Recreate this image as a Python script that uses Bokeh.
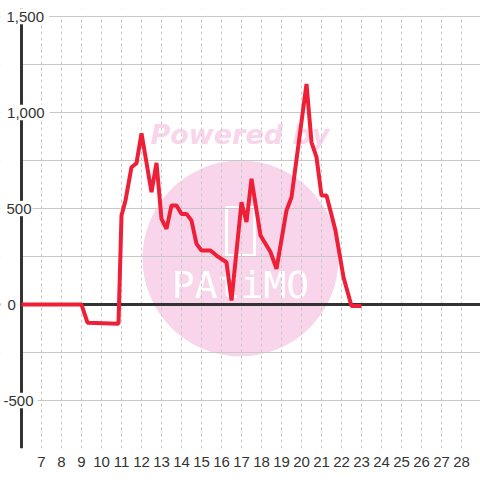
from bokeh.plotting import figure
from bokeh.models import Span, Label, FixedTicker, Range1d, Grid, BoxAnnotation
from bokeh.core.properties import value
from bokeh.embed import file_html
from bokeh.resources import INLINE

# data (hour of day, value)
hours = [6, 9.0, 9.3, 10.85, 11.0, 11.2, 11.5, 11.75, 12.0, 12.5, 12.75, 13.0, 13.25, 13.5,
         13.75, 14.0, 14.25, 14.5, 14.75, 15.0, 15.45, 15.75, 16.25, 16.5, 17.0, 17.25,
         17.5, 17.95, 18.45, 18.75, 19.25, 19.5, 20.25, 20.5, 20.75, 21.0, 21.25, 21.7,
         22.1, 22.5, 23.0]
values = [0, 0, -95, -100, 464, 542, 715, 736, 892, 585, 738, 446, 394, 516,
          516, 472, 472, 437, 316, 281, 281, 255, 220, 21, 533, 429,
          655, 359, 273, 186, 490, 559, 1149, 845, 767, 568, 568, 385,
          142, -8, -8]

x_ticks = list(range(7, 29))
y_grid_ticks = [-750, -500, -250, 0, 250, 500, 750, 1000, 1250, 1500]
y_label_vals = [-500, 0, 500, 1000, 1500]
y_label_texts = ["-500", "0", "500", "1,000", "1,500"]
y_label_x = [5.1, 5.3, 5.25, 5.28, 5.25]

# watermark
wm_x = [16.95]
wm_y = [240]
wm_text_x = [12.45]
wm_text_y = [885]
logo_y = [104]
logo_box_y = [380]

p = figure(width=480, height=480, x_range=Range1d(4.95, 28.95), y_range=Range1d(-750, 1541.7),
           output_backend="svg", toolbar_location=None, y_axis_location=None,
           min_border_left=0, min_border_right=0, min_border_top=8, min_border_bottom=32)
p.outline_line_color = None
p.background_fill_color = "white"

# axes / grid
p.xaxis.ticker = FixedTicker(ticks=x_ticks)
p.xaxis.axis_line_color = None
p.xaxis.major_tick_line_color = None
p.xaxis.minor_tick_line_color = None
p.xaxis.major_label_text_font = "Liberation Sans"
p.xaxis.major_label_text_font_size = "15px"
p.xaxis.major_label_text_color = "#333333"
p.xaxis.major_label_standoff = 2
p.xgrid.ticker = FixedTicker(ticks=x_ticks)
p.xgrid.grid_line_color = "#c8c8c8"
p.xgrid.grid_line_dash = "3 3"
p.xgrid.grid_line_width = 1

yg = Grid(dimension=1, ticker=FixedTicker(ticks=y_grid_ticks),
          grid_line_color="#c8c8c8", grid_line_width=1)
p.add_layout(yg)

# zero line, then blank strips left of the axis line and above the top grid line
p.add_layout(Span(location=0, dimension="width", line_color="#333333", line_width=3, level="underlay"))
p.add_layout(BoxAnnotation(right=5.93, fill_color="white", fill_alpha=1.0, line_color=None,
                           level="underlay"))
p.add_layout(BoxAnnotation(bottom=1503, fill_color="white", fill_alpha=1.0, line_color=None,
                           level="underlay"))
p.add_layout(Span(location=6, dimension="height", line_color="#333333", line_width=3, level="underlay"))

# watermark
p.scatter(x=wm_x, y=wm_y, size=196, marker="circle", fill_color="#f9d5ec",
          line_color=None, level="image")
p.text(x=wm_text_x, y=wm_text_y, text=["Powered by"], text_font=value("DejaVu Sans"),
       text_font_style="bold italic", text_font_size="27px", text_color="#f9d5ec",
       text_baseline="middle", text_align="left", level="image")
p.rect(x=wm_x, y=logo_box_y, width=28, height=48, width_units="screen", height_units="screen",
       fill_color=None, line_color="white", line_width=3, level="image")
p.text(x=wm_x, y=logo_y, text=["PAtiMO"], text_font=value("DejaVu Sans Mono"),
       text_font_size="38px", text_color="white", text_align="center",
       text_baseline="middle", level="image")

# data line
p.line(hours, values, line_color="#ee1f37", line_width=4)

# white backings behind the y labels
lefts = [xv - 0.05 for xv in y_label_x]
rights = [xv + 0.415 * len(t) + 0.05 for xv, t in zip(y_label_x, y_label_texts)]
bots = [v - 40 for v in y_label_vals]
tops = [v + 40 for v in y_label_vals]
p.quad(left=lefts, right=rights, bottom=bots, top=tops, fill_color="white",
       line_color=None, level="guide")

# y labels
for xv, v, t in zip(y_label_x, y_label_vals, y_label_texts):
    p.add_layout(Label(x=xv, y=v, text=t, text_align="left", text_baseline="middle",
                       text_font="Liberation Sans", text_font_size="15px",
                       text_color="#333333"))

open("out.html", "w").write(file_html(p, INLINE))
